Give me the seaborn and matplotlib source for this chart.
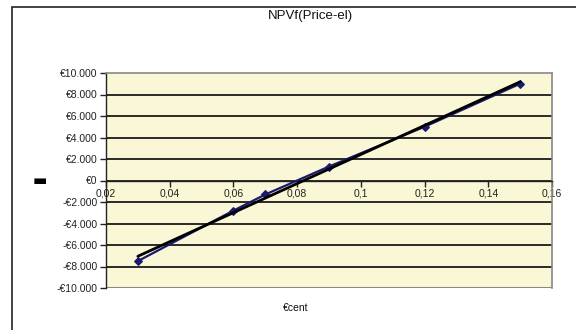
import matplotlib
matplotlib.use("Agg")
import matplotlib.pyplot as plt
import seaborn as sns
import pandas as pd
from matplotlib.ticker import FuncFormatter, MultipleLocator
from matplotlib.patches import Rectangle

price = [0.03, 0.06, 0.07, 0.09, 0.12, 0.15]
npv = [-7500, -2800, -1300, 1300, 5000, 9000]
title = "NPVf(Price-el)"
xlabel = "€cent"
ylabel = "▬"

df = pd.DataFrame({"price": price, "npv": npv})

sns.set_theme(style="white")
plt.rcParams['font.family'] = ['Liberation Sans', 'DejaVu Sans']

W, H = 576, 330
fig = plt.figure(figsize=(W / 100, H / 100), dpi=100)
ax = fig.add_axes([106 / W, 1 - 288 / H, (552 - 106) / W, (288 - 73) / H])
ax.set_facecolor("#FAF7D6")

# outer chart frame
fig.patches.append(Rectangle((12 / W, -0.1), 1.2, 1 - 7 / H + 0.1, transform=fig.transFigure,
                             fill=False, edgecolor="#222222", linewidth=1.2, clip_on=False))

ax.set_xlim(0.02, 0.16)
ax.set_ylim(-10000, 10000)
ax.yaxis.set_major_locator(MultipleLocator(2000))
ax.xaxis.set_major_locator(MultipleLocator(0.02))
for v in range(-10000, 10001, 2000):
    if v not in (-10000, 10000):
        ax.axhline(v, color="#2a2a2a", linewidth=1.4, zorder=1)

sns.lineplot(data=df, x="price", y="npv", ax=ax, color="#1a1a70", marker="D",
             markersize=4.5, markeredgecolor="#1a1a70", linewidth=1.6, zorder=3)
sns.regplot(data=df, x="price", y="npv", ax=ax, ci=None, scatter=False,
            line_kws={"color": "black", "linewidth": 2.0, "zorder": 4})

def yfmt(v, pos):
    s = f"{abs(int(round(v))):,}".replace(",", ".")
    return ("-€" if v < 0 else "€") + s

def xfmt(v, pos):
    s = f"{v:.2f}".rstrip("0").rstrip(".")
    return s.replace(".", ",")

ax.yaxis.set_major_formatter(FuncFormatter(yfmt))
ax.xaxis.set_major_formatter(FuncFormatter(xfmt))

for side in ("top", "right"):
    ax.spines[side].set_color("#888888")
    ax.spines[side].set_linewidth(1.2)
ax.spines["left"].set_color("#222222")
ax.spines["left"].set_linewidth(1.0)
ax.spines["bottom"].set_position(("data", 0))
ax.spines["bottom"].set_color("#222222")
ax.spines["bottom"].set_linewidth(1.0)
# bottom border of plot area
ax.axhline(-10000, color="#888888", linewidth=1.5, zorder=2)

ax.tick_params(axis="both", which="both", direction="out", length=4, width=1.0,
               color="#222222", labelsize=7.5, labelcolor="#222222",
               bottom=True, left=True)
ax.tick_params(axis="x", pad=2)
ax.tick_params(axis="y", pad=2)

ax.set_xlabel("")
ax.set_ylabel("")
fig.text(296 / W, 1 - 308 / H, xlabel, ha="center", va="center", fontsize=7.5, color="#111111")
fig.text(40 / W, 1 - 181 / H, ylabel, ha="center", va="center", fontsize=11,
         color="black", family=["DejaVu Sans"])
fig.text(310 / W, 1 - 16 / H, title, ha="center", va="center", fontsize=9.5, color="#111111")

fig.savefig("out.png", dpi=100, facecolor="white")
